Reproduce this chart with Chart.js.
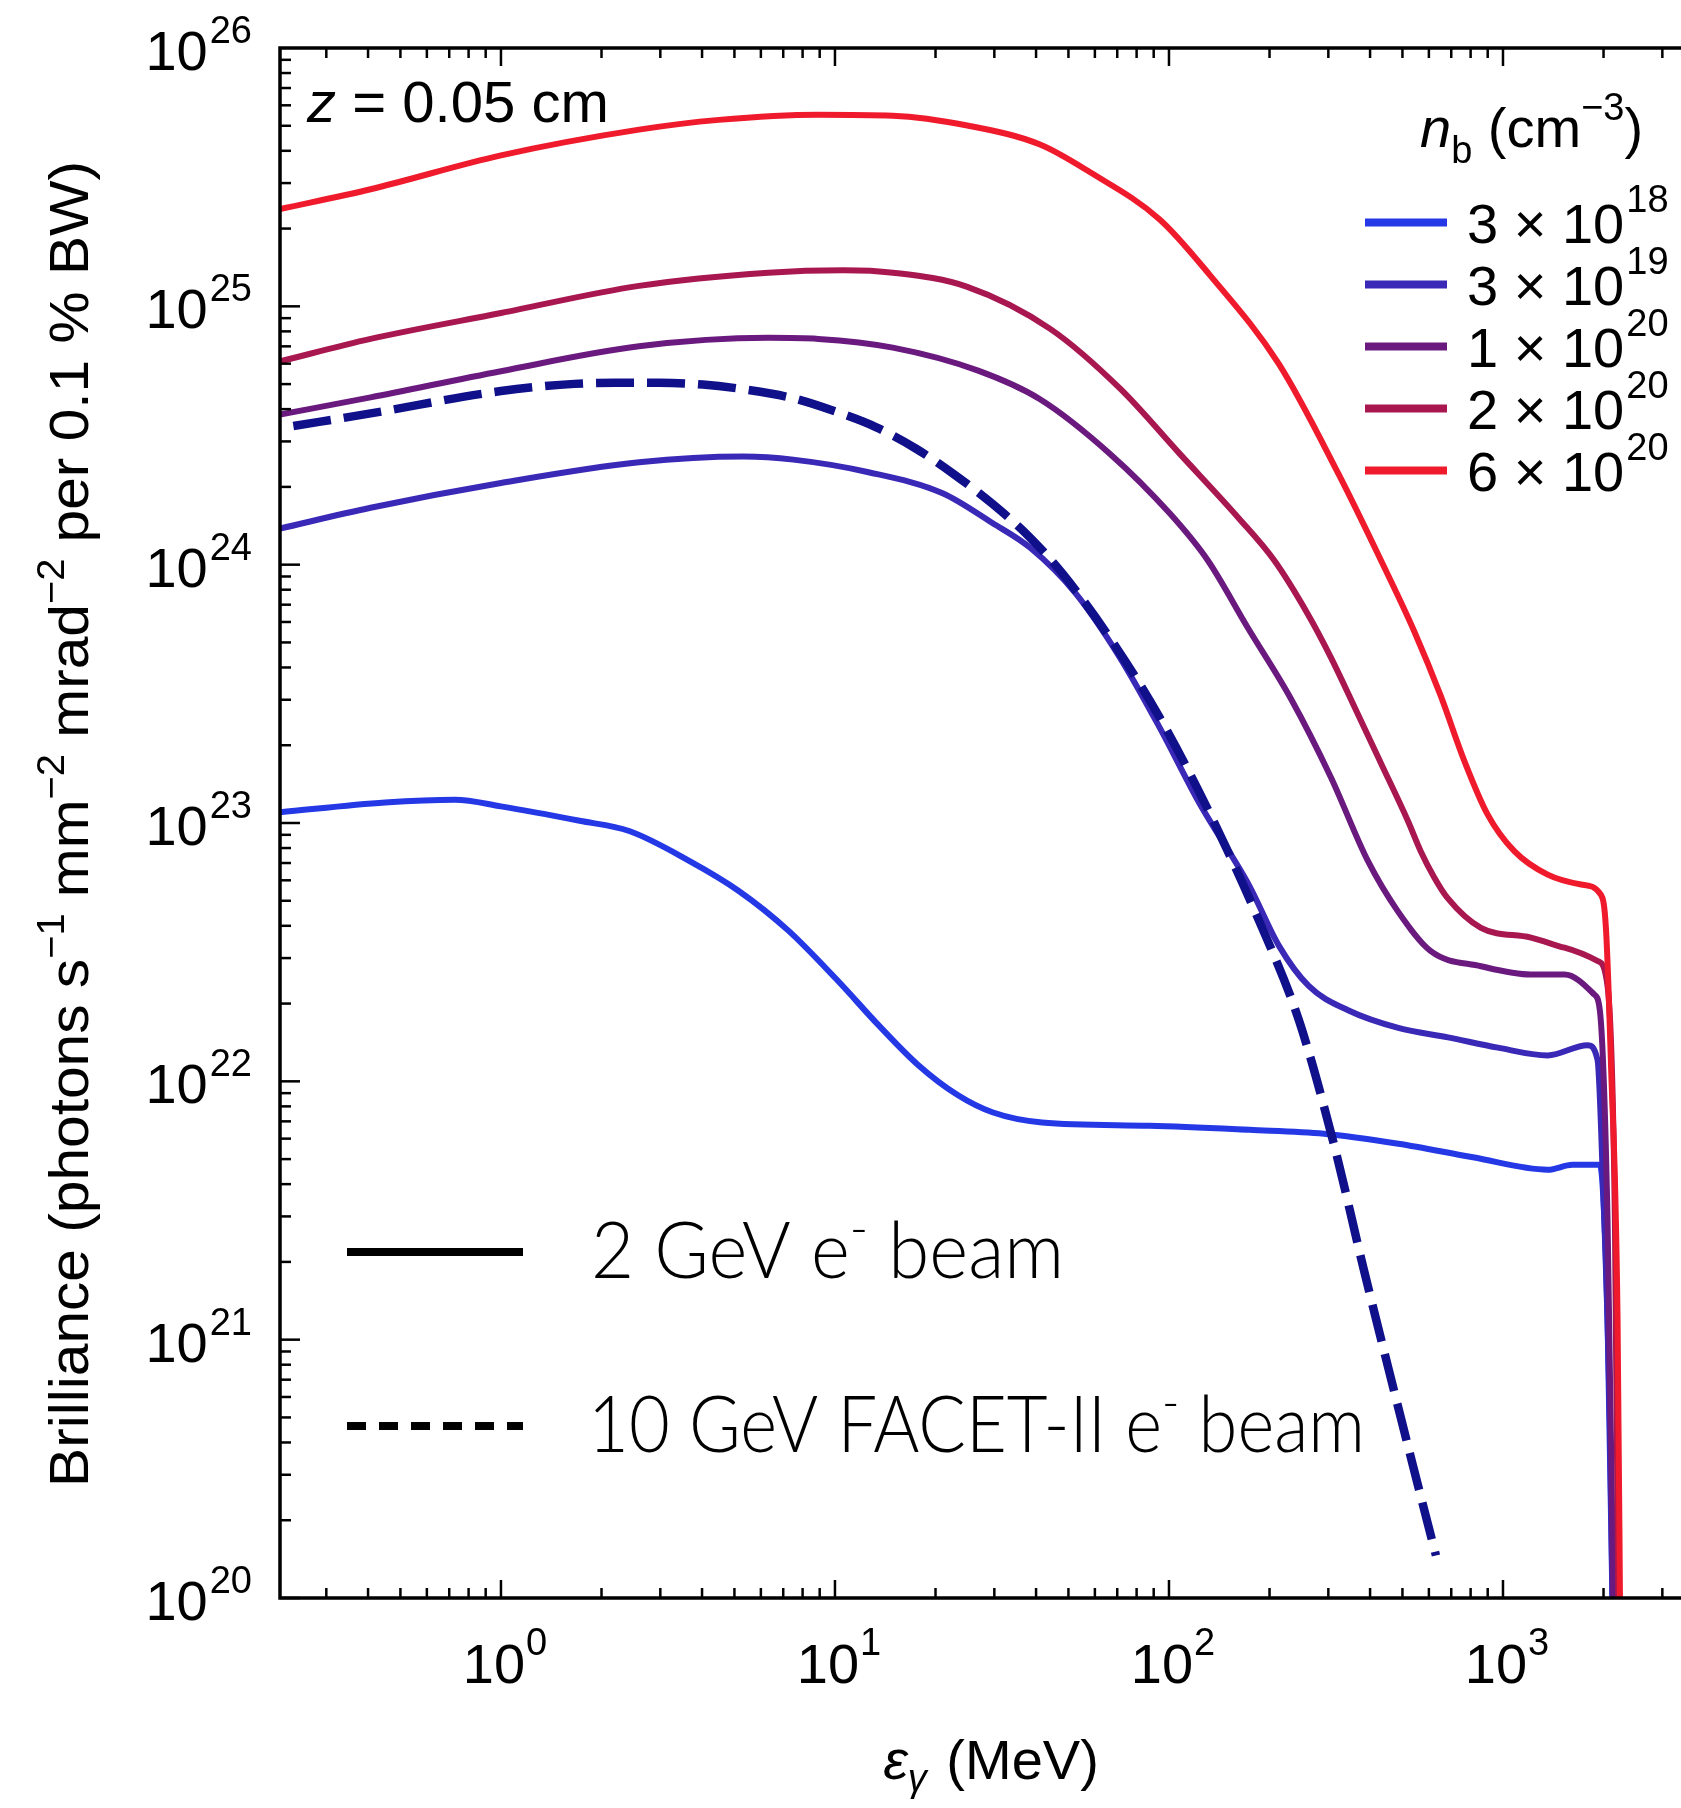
<!DOCTYPE html>
<html>
<head>
<meta charset="utf-8">
<title>Brilliance spectra</title>
<script src="https://cdn.jsdelivr.net/npm/chart.js@4.4.1/dist/chart.umd.min.js"></script>
<style>
  html, body { margin: 0; padding: 0; background: #fff; overflow: hidden; }
  #wrap { position: relative; width: 1681px; height: 1808px; overflow: hidden; }
  #brill { position: absolute; left: 0; top: 0; }
</style>
</head>
<body>
<div id="wrap"><canvas id="brill" width="1700" height="1808"></canvas></div>
<script>
// photon energy in MeV, brilliance in photons s^-1 mm^-2 mrad^-2 per 0.1% BW
const eBlue   = [0.218, 0.45, 0.728, 1.0, 1.72, 2.42, 3.66, 5.14, 7.24, 10.2, 13.5, 17.7, 23.3, 29.6, 41.7, 87.5, 174, 291, 486, 813, 1361, 1614, 1950, 1995, 2056, 2138];
const bBlue   = [1.10e23, 1.20e23, 1.23e23, 1.16e23, 1.02e23, 9.31e22, 7.14e22, 5.47e22, 3.84e22, 2.45e22, 1.65e22, 1.16e22, 8.85e21, 7.59e21, 6.93e21, 6.73e21, 6.49e21, 6.27e21, 5.73e21, 5.08e21, 4.55e21, 4.75e21, 4.75e21, 3.63e21, 1.2e21, 6.3e19];

const eViolet = [0.218, 0.407, 1, 2.59, 5.32, 7.5, 12.6, 21.0, 29.6, 38.5, 52.4, 71.3, 93.8, 123, 174, 213, 262, 345, 486, 685, 966, 1361, 1791, 1919, 1986, 2089, 2138];
const bViolet = [1.38e24, 1.66e24, 2.07e24, 2.49e24, 2.62e24, 2.55e24, 2.28e24, 1.89e24, 1.45e24, 1.16e24, 7.78e23, 4.37e23, 2.34e23, 1.2e23, 5.71e22, 3.36e22, 2.34e22, 1.88e22, 1.61e22, 1.48e22, 1.35e22, 1.26e22, 1.38e22, 1.21e22, 4.56e21, 4.9e20, 6.3e19];

const ePurple = [0.218, 0.407, 1, 2.59, 6.32, 8.91, 14.9, 26.7, 41.1, 66.5, 100.5, 130.6, 172, 232, 305.5, 394, 484, 608, 859, 1213, 1528, 1875, 1950, 2056, 2138, 2163];
const bPurple = [3.81e24, 4.44e24, 5.61e24, 7.0e24, 7.55e24, 7.48e24, 6.92e24, 5.65e24, 4.37e24, 2.69e24, 1.58e24, 1.04e24, 5.71e23, 3.02e23, 1.50e23, 7.13e22, 4.56e22, 3.19e22, 2.79e22, 2.59e22, 2.59e22, 2.17e22, 1.88e22, 2.92e21, 1e20, 3.2e19];

const eCrimson = [0.218, 0.407, 1, 2.59, 6.32, 10.6, 14.9, 24.9, 44.1, 71.3, 107.6, 162, 206.5, 260, 305.5, 359, 431.5, 519, 567.5, 622, 682, 859, 1213, 1528, 1923, 2056, 2163, 2213, 2239];
const bCrimson = [6.12e24, 7.48e24, 9.42e24, 1.20e25, 1.35e25, 1.38e25, 1.35e25, 1.19e25, 8.18e24, 4.81e24, 2.69e24, 1.51e24, 1.04e24, 6.46e23, 4.37e23, 2.82e23, 1.70e23, 1.02e23, 7.76e22, 6.17e22, 5.13e22, 3.93e22, 3.60e22, 3.29e22, 2.92e22, 2.34e22, 2.92e21, 1e20, 3.2e19];

const eRed = [0.218, 0.407, 1.0, 2.59, 4.49, 8.91, 14.9, 24.9, 41.1, 57.9, 93.8, 132, 213, 322, 431, 543, 652, 766, 899, 1081, 1361, 1714, 1963, 2033, 2104, 2203, 2239, 2254];
const bRed = [2.38e25, 2.84e25, 3.84e25, 4.83e25, 5.27e25, 5.52e25, 5.47e25, 5.01e25, 4.23e25, 3.31e25, 2.17e25, 1.33e25, 6.0e24, 2.24e24, 1.04e24, 5.5e23, 3.09e23, 1.74e23, 1.08e23, 7.78e22, 6.31e22, 5.78e22, 5.28e22, 3.93e22, 1.20e22, 1.2e21, 1.05e20, 3.2e19];

// 10 GeV FACET-II beam (dashed)
const eFacet = [0.239, 0.407, 1, 1.66, 2.21, 2.98, 4.02, 5.48, 7.38, 9.84, 13.3, 17.5, 22.7, 29.6, 38.2, 48.1, 66.5, 93.8, 132, 186, 245, 312, 383, 454, 540, 630];
const bFacet = [3.44e24, 3.85e24, 4.70e24, 5.01e24, 5.06e24, 5.06e24, 4.98e24, 4.75e24, 4.43e24, 3.95e24, 3.40e24, 2.81e24, 2.24e24, 1.72e24, 1.28e24, 9.2e23, 5.21e23, 2.56e23, 1.10e23, 4.19e22, 1.72e22, 5.68e21, 1.87e21, 7.73e20, 3.18e20, 1.46e20];

// legend n_b (cm^-3): mantissa and exponent
const densityMant = ['3', '3', '1', '2', '6'];
const densityExp = ['18', '19', '20', '20', '20'];
const seriesColors = ['#2438e6', '#3a28b6', '#6a1a7e', '#a8174f', '#ef1a2c'];
const facetColor = '#10108a';

const xTickExp = [0, 1, 2, 3];
const yTickExp = [20, 21, 22, 23, 24, 25, 26];
const xMin = 0.218, xMax = 3630;
const yMin = 1e20, yMax = 1e26;

const HELV = '"Liberation Sans", Arial, Helvetica, sans-serif';
const GILL = 'Lato, "Open Sans", sans-serif';

function pts(es, bs) {
    return es.map((e, i) => ({ x: e, y: bs[i] }));
}

function runsWidth(ctx, runs) {
    let w = 0;
    for (const r of runs) {
        ctx.font = r.font;
        w += ctx.measureText(r.t).width + (r.gap || 0);
    }
    return w;
}

function drawRuns(ctx, runs, x, y) {
    for (const r of runs) {
        ctx.font = r.font;
        ctx.fillText(r.t, x, y + (r.dy || 0));
        x += ctx.measureText(r.t).width + (r.gap || 0);
    }
}

// draw runs squeezed/stretched horizontally to a target width
function fitRuns(ctx, runs, x, y, width) {
    const w = runsWidth(ctx, runs);
    ctx.save();
    ctx.translate(x, y);
    ctx.scale(width / w, 1);
    drawRuns(ctx, runs, 0, 0);
    ctx.restore();
}

function seg(ctx, x1, y1, x2, y2) {
    ctx.beginPath();
    ctx.moveTo(x1, y1);
    ctx.lineTo(x2, y2);
    ctx.stroke();
}

const decorations = {
    id: 'decorations',
    afterDraw(chart) {
        const { ctx, chartArea: a, scales: { x, y } } = chart;
        const main = `56px ${HELV}`;
        const sup = `38px ${HELV}`;
        const ital = `italic 56px ${HELV}`;
        ctx.save();
        ctx.fillStyle = '#000';
        ctx.strokeStyle = '#000';
        ctx.textBaseline = 'alphabetic';
        ctx.textAlign = 'left';

        // frame (right side falls outside the picture)
        ctx.lineWidth = 3.5;
        ctx.strokeRect(a.left, a.top, a.right - a.left, a.bottom - a.top);

        // inward ticks on bottom, top and left
        ctx.lineWidth = 2.5;
        for (let d = -1; d <= 3; d++) {
            for (let m = 1; m <= 9; m++) {
                const v = m * Math.pow(10, d);
                if (v < xMin || v > xMax) continue;
                const px = x.getPixelForValue(v);
                const len = m === 1 ? 18 : 10;
                seg(ctx, px, a.bottom, px, a.bottom - len);
                seg(ctx, px, a.top, px, a.top + len);
            }
        }
        for (let d = 20; d <= 25; d++) {
            for (let m = 1; m <= 9; m++) {
                const py = y.getPixelForValue(m * Math.pow(10, d));
                seg(ctx, a.left, py, a.left + (m === 1 ? 20 : 11), py);
            }
        }

        // y tick labels
        for (const e of yTickExp) {
            const py = y.getPixelForValue(Math.pow(10, e));
            ctx.font = sup;
            const sw = ctx.measureText(String(e)).width;
            ctx.font = main;
            const bw = ctx.measureText('10').width;
            const xs = a.left - 28 - sw;
            ctx.fillText('10', xs - 2 - bw, py + 22);
            ctx.font = sup;
            ctx.fillText(String(e), xs, py - 5);
        }

        // x tick labels
        for (const e of xTickExp) {
            const px = x.getPixelForValue(Math.pow(10, e));
            const runs = [{ t: '10', font: main, gap: 1 }, { t: String(e), font: sup, dy: -28 }];
            const w = runsWidth(ctx, runs);
            drawRuns(ctx, runs, px - w / 2 + 4, a.bottom + 85);
        }

        // x title
        const xt = [
            { t: '\u03b5', font: ital },
            { t: '\u03b3', font: `italic 38px ${HELV}`, dy: 12, gap: 4 },
            { t: ' (MeV)', font: main }
        ];
        drawRuns(ctx, xt, 991 - runsWidth(ctx, xt) / 2, 1779);

        // y title, rotated
        const yt = [
            { t: 'Brilliance (photons s', font: main },
            { t: '\u22121', font: sup, dy: -24 },
            { t: ' mm', font: main },
            { t: '\u22122', font: sup, dy: -24 },
            { t: ' mrad', font: main },
            { t: '\u22122', font: sup, dy: -24 },
            { t: ' per 0.1 % BW)', font: main }
        ];
        ctx.save();
        ctx.translate(88, 824);
        ctx.rotate(-Math.PI / 2);
        fitRuns(ctx, yt, -663, 0, 1326);
        ctx.restore();

        // z annotation
        fitRuns(ctx, [{ t: 'z', font: `italic 58px ${HELV}` }, { t: ' = 0.05 cm', font: `58px ${HELV}` }], 307, 122, 302);

        // density legend
        drawRuns(ctx, [
            { t: 'n', font: ital },
            { t: 'b', font: sup, dy: 16 },
            { t: ' (cm', font: main },
            { t: '\u22123', font: sup, dy: -27 },
            { t: ')', font: main }
        ], 1420, 147);
        for (let i = 0; i < densityMant.length; i++) {
            const ly = 222.6 + 62 * i;
            ctx.strokeStyle = seriesColors[i];
            ctx.lineWidth = 8;
            seg(ctx, 1365, ly, 1447, ly);
            drawRuns(ctx, [
                { t: densityMant[i] + ' \u00d7 10', font: main, gap: 2 },
                { t: densityExp[i], font: sup, dy: -31 }
            ], 1467, ly + 20);
        }

        // beam legend
        ctx.strokeStyle = '#000';
        ctx.lineWidth = 8;
        seg(ctx, 347, 1252, 523, 1252);
        ctx.setLineDash([19, 13]);
        seg(ctx, 347, 1426, 523, 1426);
        ctx.setLineDash([]);
        const big = `300 78px ${GILL}`;
        const small = `300 52px ${GILL}`;
        fitRuns(ctx, [{ t: '2 GeV e', font: big }, { t: '-', font: small, dy: -32 }, { t: ' beam', font: big }], 591, 1278, 473);
        fitRuns(ctx, [{ t: '10 GeV FACET-II e', font: big }, { t: '-', font: small, dy: -32 }, { t: ' beam', font: big }], 588, 1452, 777);
        ctx.restore();
    }
};

const solid = (label, es, bs, color) => ({
    label: label,
    data: pts(es, bs),
    borderColor: color,
    borderWidth: 6,
    pointRadius: 0,
    fill: false,
    cubicInterpolationMode: 'monotone',
    borderJoinStyle: 'round'
});

new Chart(document.getElementById('brill'), {
    type: 'line',
    data: {
        datasets: [
            {
                label: '10 GeV FACET-II e- beam',
                data: pts(eFacet, bFacet),
                borderColor: facetColor,
                borderWidth: 8.5,
                borderDash: [38, 13],
                pointRadius: 0,
                fill: false,
                cubicInterpolationMode: 'monotone'
            },
            solid('6 x 10^20', eRed, bRed, seriesColors[4]),
            solid('2 x 10^20', eCrimson, bCrimson, seriesColors[3]),
            solid('1 x 10^20', ePurple, bPurple, seriesColors[2]),
            solid('3 x 10^19', eViolet, bViolet, seriesColors[1]),
            solid('3 x 10^18', eBlue, bBlue, seriesColors[0])
        ]
    },
    options: {
        responsive: false,
        devicePixelRatio: 1,
        animation: false,
        layout: { padding: { left: 280, top: 48, right: 10, bottom: 210 } },
        plugins: {
            legend: { display: false },
            tooltip: { enabled: false }
        },
        scales: {
            x: { type: 'logarithmic', min: xMin, max: xMax, display: false },
            y: { type: 'logarithmic', min: yMin, max: yMax, display: false }
        }
    },
    plugins: [decorations]
});
</script>
</body>
</html>
